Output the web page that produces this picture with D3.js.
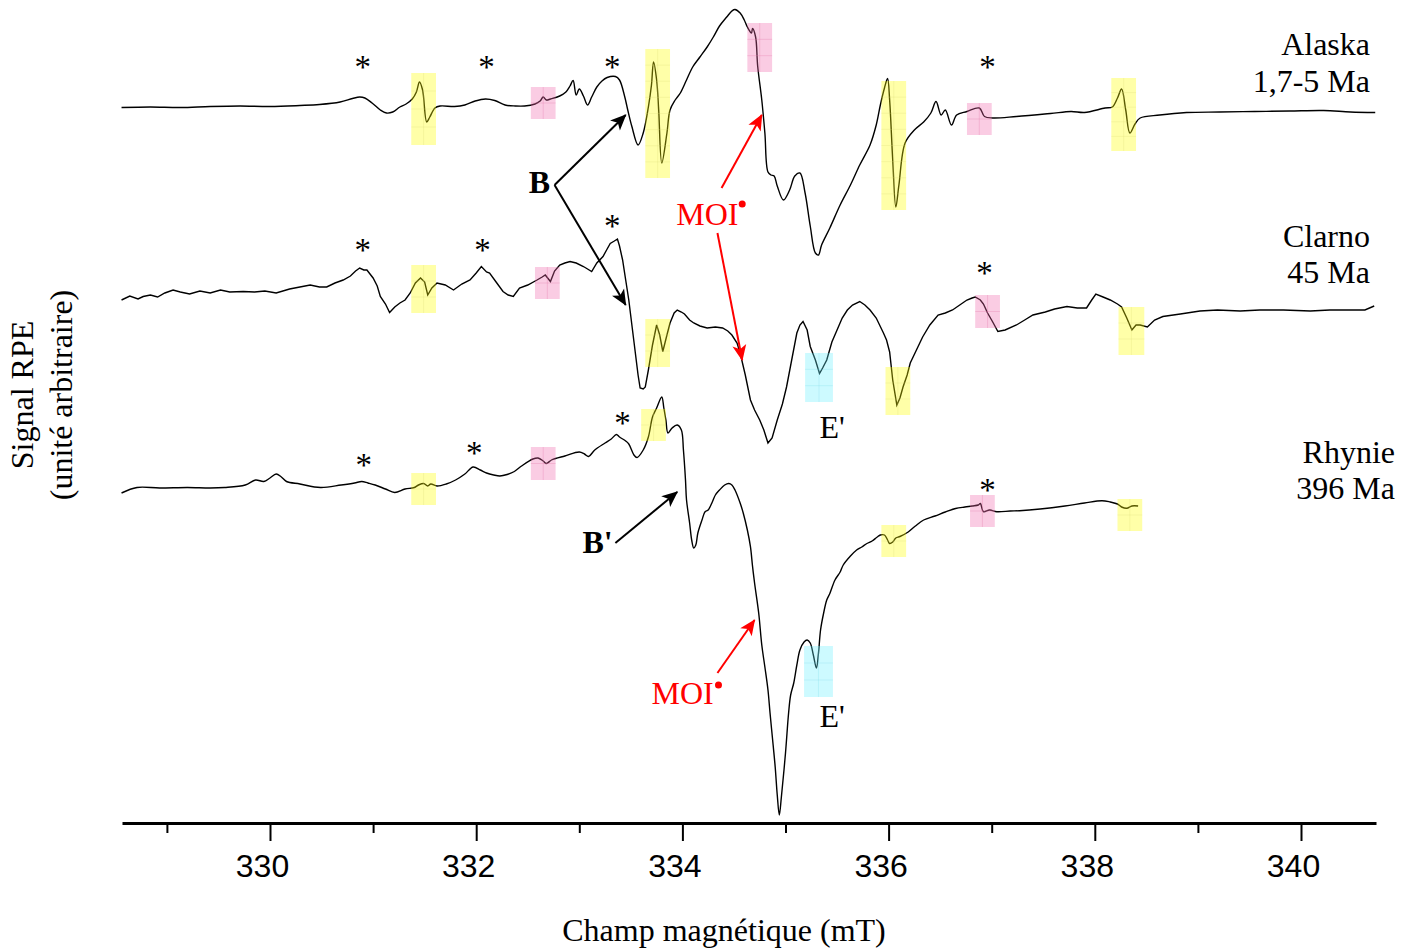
<!DOCTYPE html>
<html><head><meta charset="utf-8">
<script src="https://cdn.jsdelivr.net/npm/d3@7"></script>
<style>html,body{margin:0;padding:0;background:#fff;} svg{display:block;}</style>
</head><body>
<svg id="chart" width="1413" height="952"></svg>
<script>
// ---------------- DATA ----------------
const majorTicks = [330, 332, 334, 336, 338, 340];
const minorTicks = [329, 331, 333, 335, 337, 339];
const seriesNames = ["Alaska", "Clarno", "Rhynie"];
const seriesAges = ["1,7-5 Ma", "45 Ma", "396 Ma"];
const xTitle = "Champ magnétique (mT)";
const yTitle = ["Signal RPE", "(unité arbitraire)"];

// [field (mT), signal (arbitrary units, spectra stacked with offsets)]
const alaska = [[328.56,715.5],[328.84,716],[329.13,715.5],[329.42,716.5],[329.71,717],[330.00,716.5],[330.29,717.5],[330.48,718.5],[330.68,721],[330.80,724.5],[330.87,726],[330.92,725],[330.99,720],[331.07,713],[331.13,710],[331.19,711],[331.26,716],[331.32,719],[331.38,724],[331.42,731],[331.45,741],[331.48,733],[331.52,701],[331.55,706],[331.60,715],[331.65,717],[331.79,716.5],[331.89,718],[331.99,722],[332.09,724],[332.18,722.5],[332.28,718],[332.38,717],[332.47,717],[332.57,719],[332.62,722],[332.65,726],[332.68,723],[332.72,724],[332.81,727],[332.87,731],[332.91,737],[332.94,742.5],[332.97,728],[333.00,734],[333.04,727],[333.08,718],[333.12,726],[333.17,736],[333.22,742],[333.27,745.5],[333.35,746.5],[333.39,743],[333.44,726.5],[333.47,713],[333.51,696.5],[333.57,678],[333.62,690],[333.67,716],[333.70,738],[333.72,761],[333.75,743],[333.77,713],[333.80,660],[333.85,690],[333.88,713],[333.93,723],[333.98,730],[334.04,743],[334.10,756],[334.17,766],[334.24,776],[334.30,786],[334.36,797],[334.43,806],[334.48,812],[334.51,813.5],[334.56,810],[334.60,803],[334.63,796],[334.67,790],[334.68,794.5],[334.71,786],[334.73,757],[334.77,723],[334.80,690],[334.83,651],[334.86,648],[334.89,647],[334.92,637],[334.98,623],[335.04,633],[335.09,647],[335.14,650],[335.19,630],[335.24,597],[335.29,570],[335.32,568],[335.35,578],[335.43,595],[335.53,618],[335.63,638],[335.72,658],[335.82,678],[335.88,698],[335.92,718],[335.96,735],[335.99,744.5],[336.01,723],[336.04,663],[336.07,616],[336.10,638],[336.16,680],[336.25,693],[336.34,701],[336.41,710],[336.46,721.5],[336.51,708],[336.55,713],[336.61,698],[336.66,708],[336.76,711.5],[336.88,715],[336.93,706.5],[337.01,705],[337.24,706.5],[337.57,709.5],[337.77,711.5],[337.90,710.5],[338.10,715],[338.17,716],[338.22,725],[338.26,734],[338.30,713],[338.34,690],[338.39,699],[338.44,705],[338.63,708],[338.89,710.5],[339.21,711],[339.55,711.5],[339.89,712],[340.22,712.5],[340.48,711],[340.72,710.5]];

const clarno = [[328.56,523],[328.64,527],[328.72,524],[328.77,526.5],[328.84,528],[328.91,526],[328.98,530],[329.06,533],[329.13,531],[329.22,529],[329.32,532],[329.42,530],[329.52,533],[329.61,531],[329.74,531.5],[329.85,531],[329.95,532],[330.06,530],[330.19,534],[330.29,536],[330.39,538],[330.48,536],[330.55,536],[330.63,540],[330.71,543],[330.78,547],[330.83,552],[330.87,555],[330.91,553],[330.94,553],[331.00,545],[331.04,537],[331.07,526.5],[331.12,519],[331.16,510.5],[331.21,516],[331.26,520],[331.31,523],[331.36,530],[331.41,540],[331.46,545],[331.50,541],[331.53,528],[331.57,535],[331.62,540],[331.70,538],[331.78,533],[331.86,539],[331.94,543],[332.00,550],[332.05,556.5],[332.10,551],[332.13,550],[332.20,540],[332.26,531.5],[332.31,528],[332.36,526.5],[332.42,535],[332.50,538],[332.59,543],[332.64,546],[332.67,548],[332.72,541.5],[332.76,552],[332.81,558],[332.86,560],[332.91,561.5],[332.97,560],[333.04,556.5],[333.08,554],[333.12,551.5],[333.17,560],[333.23,566.5],[333.27,574],[333.30,579.5],[333.34,582],[333.37,584],[333.39,577],[333.42,563],[333.45,543],[333.48,523],[333.51,498],[333.54,473],[333.57,448],[333.59,435],[333.62,434],[333.64,436],[333.67,453],[333.71,478],[333.75,498],[333.78,488],[333.81,471.5],[333.85,488],[333.88,500],[333.92,510],[333.95,513],[333.99,511],[334.02,509],[334.07,503],[334.11,500],[334.17,497],[334.24,495],[334.32,496],[334.39,495],[334.44,492],[334.48,488],[334.53,480],[334.56,470],[334.61,448],[334.66,423],[334.70,413],[334.75,403],[334.79,393],[334.83,380],[334.87,385],[334.92,403],[334.97,419],[335.01,436],[335.06,463],[335.11,490],[335.14,498],[335.17,501.5],[335.21,493],[335.24,476.5],[335.29,463],[335.33,449.5],[335.36,455],[335.40,463],[335.45,481],[335.50,493],[335.55,505],[335.60,513],[335.65,518],[335.72,521.5],[335.77,518],[335.82,513],[335.88,505],[335.95,490],[335.98,483],[336.01,471],[336.04,443],[336.08,418],[336.11,425],[336.14,436],[336.18,448],[336.21,460],[336.27,473],[336.33,486],[336.40,498],[336.48,508],[336.55,510],[336.62,513],[336.69,518],[336.76,523],[336.81,525],[336.84,526],[336.89,523],[336.92,519],[336.96,510],[337.01,501],[337.06,491.5],[337.13,493],[337.24,498],[337.32,503],[337.40,508],[337.52,511],[337.61,514],[337.73,516.5],[337.83,515],[337.92,515],[337.97,523],[338.01,529],[338.08,526],[338.15,523],[338.22,519],[338.26,516],[338.31,505],[338.36,493],[338.40,498],[338.44,498],[338.51,496],[338.58,503],[338.66,506.5],[338.83,509],[339.02,512],[339.19,513],[339.41,512],[339.60,513],[339.83,513],[340.09,512],[340.28,513],[340.48,513],[340.62,513],[340.71,517]];

const rhynie = [[328.56,330],[328.71,335.5],[328.93,335],[329.20,335.5],[329.42,335],[329.56,335.5],[329.76,338],[329.86,343],[329.94,341.5],[330.00,345],[330.06,349],[330.11,346],[330.16,341.5],[330.29,339],[330.49,335.5],[330.69,338],[330.82,340],[330.89,341.5],[330.95,340],[331.02,338],[331.12,334],[331.21,330.5],[331.31,334],[331.40,335.5],[331.44,338],[331.49,339.5],[331.53,337],[331.56,339],[331.62,337],[331.71,339],[331.80,343],[331.89,349],[331.97,356],[332.04,353],[332.10,350],[332.17,348],[332.23,347],[332.30,348.5],[332.37,351.5],[332.44,357],[332.55,364],[332.60,365],[332.65,362],[332.68,359.5],[332.73,363],[332.77,364.5],[332.86,367],[333.00,371],[333.05,369],[333.09,366.5],[333.15,373],[333.25,380],[333.31,384],[333.36,388.5],[333.39,386],[333.45,382],[333.48,379],[333.53,368],[333.56,365.5],[333.62,373],[333.67,386],[333.71,406],[333.75,415],[333.80,426],[333.82,415],[333.84,403],[333.86,390],[333.90,395],[333.95,398],[333.99,393],[334.01,373],[334.03,343],[334.04,323],[334.07,300],[334.09,283],[334.11,275],[334.13,278],[334.15,290],[334.19,303],[334.22,311.3],[334.25,313],[334.29,321],[334.32,328],[334.36,333],[334.41,338],[334.45,339.5],[334.48,338],[334.51,333],[334.56,320],[334.59,310],[334.63,293],[334.66,276.3],[334.68,257],[334.70,240],[334.74,210],[334.77,178],[334.80,156],[334.83,133],[334.85,110],[334.88,78],[334.90,56],[334.92,28],[334.94,8],[334.96,26],[335.00,70],[335.03,110],[335.05,128],[335.08,140],[335.11,158],[335.14,173],[335.18,181],[335.21,183],[335.24,180],[335.27,168],[335.30,155],[335.32,170],[335.34,193],[335.37,210],[335.40,223],[335.43,229.5],[335.48,243],[335.53,251],[335.56,258],[335.63,267],[335.69,273],[335.74,276],[335.79,279.5],[335.84,282],[335.89,286],[335.92,288],[335.96,288],[335.99,283],[336.01,279.5],[336.04,281],[336.07,285],[336.11,286.5],[336.19,291],[336.26,297],[336.34,303],[336.45,307],[336.55,311],[336.65,314.5],[336.74,316],[336.81,317],[336.87,318],[336.89,319.5],[336.92,311.3],[336.98,313],[337.05,311.3],[337.18,312],[337.27,312.3],[337.47,314],[337.71,317],[337.90,320],[338.07,322.3],[338.15,321],[338.22,319],[338.26,316],[338.31,314.7],[338.36,317],[338.42,317]];

// asterisk markers [field, signal]
const asterisks = [[330.90,759],[332.10,759],[333.32,759],[336.96,759],
                   [330.90,576],[332.06,576],[333.32,600],[336.93,553],
                   [330.91,361],[331.98,373],[333.42,403],[336.96,336]];

// highlighted regions [fieldStart, fieldEnd, signalLow, signalHigh]
const yellowBoxes = [[331.37,331.61,678,750],[333.64,333.88,645,774],[335.93,336.17,613,742],[338.16,338.40,672,745],
                     [331.37,331.61,510,558],[333.64,333.88,456,504],[335.97,336.21,408,456],[338.23,338.48,468,516],
                     [331.37,331.61,318,350],[333.60,333.84,382,414],[335.93,336.17,266,298],[338.22,338.46,292,324]];
const pinkBoxes = [[332.53,332.77,704,736],[334.63,334.87,751,800],[336.76,337.00,688,720],
                   [332.57,332.81,524,556],[336.84,337.08,495,528],
                   [332.53,332.77,343,376],[336.79,337.03,296,328]];
const cyanBoxes = [[335.19,335.46,421,470],[335.18,335.46,126,177]];

// ---------------- DRAWING ----------------
const svg = d3.select("#chart");
const serif = "'Liberation Serif', 'Times New Roman', serif";
const sans = "'Liberation Sans', Arial, sans-serif";

const x = d3.scaleLinear().domain([330 - 148/103.1, 340 + 75/103.1]).range([122, 1376]);
const y = d3.scaleLinear().domain([0, 823]).range([823, 0]);

const defs = svg.append("defs");
function marker(id, color) {
  defs.append("marker").attr("id", id)
    .attr("viewBox", "-17 -9 19 18").attr("refX", 0).attr("refY", 0)
    .attr("markerWidth", 19).attr("markerHeight", 18)
    .attr("markerUnits", "userSpaceOnUse").attr("orient", "auto")
    .append("path").attr("d", "M1,0 L-15,-7 L-11,0 L-15,7 Z").attr("fill", color);
}
marker("headBlack", "#000");
marker("headRed", "#ff0000");

// spectra
const smooth = d3.line().x(d => x(d[0])).y(d => y(d[1])).curve(d3.curveCatmullRom.alpha(0.5));
const jagged = d3.line().x(d => x(d[0])).y(d => y(d[1])).curve(d3.curveLinear);
svg.append("path").attr("d", smooth(alaska)).attr("fill", "none").attr("stroke", "#000").attr("stroke-width", 1.4);
svg.append("path").attr("d", jagged(clarno)).attr("fill", "none").attr("stroke", "#000").attr("stroke-width", 1.4);
svg.append("path").attr("d", smooth(rhynie)).attr("fill", "none").attr("stroke", "#000").attr("stroke-width", 1.4);

// highlight boxes (drawn over the trace, translucent)
function boxes(data, fill, grid) {
  const g = svg.append("g");
  data.forEach(b => {
    const x0 = x(b[0]), x1 = x(b[1]), y0 = y(b[3]), y1 = y(b[2]);
    g.append("rect").attr("x", x0).attr("y", y0).attr("width", x1 - x0).attr("height", y1 - y0).attr("fill", fill);
    const gl = g.append("g").attr("stroke", grid).attr("stroke-width", 1);
    gl.append("line").attr("x1", (x0 + x1) / 2).attr("x2", (x0 + x1) / 2).attr("y1", y0).attr("y2", y1);
    const n = Math.max(2, Math.round((y1 - y0) / 16));
    for (let i = 1; i < n; i++) {
      const yy = y0 + (y1 - y0) * i / n;
      gl.append("line").attr("x1", x0).attr("x2", x1).attr("y1", yy).attr("y2", yy);
    }
  });
}
boxes(yellowBoxes, "rgba(255,255,0,0.34)", "rgba(220,220,120,0.25)");
boxes(pinkBoxes, "rgba(240,100,170,0.33)", "rgba(230,120,170,0.3)");
boxes(cyanBoxes, "rgba(100,240,255,0.32)", "rgba(120,220,230,0.25)");

// asterisks
svg.append("g").selectAll("text").data(asterisks).join("text")
  .attr("x", d => x(d[0])).attr("y", d => y(d[1]) + 14)
  .attr("text-anchor", "middle").attr("font-family", serif).attr("font-size", 33).text("*");

// axis
const axisG = svg.append("g").attr("transform", "translate(0,823)")
  .call(d3.axisBottom(x).tickValues(majorTicks).tickSize(18).tickSizeOuter(0).tickFormat(d3.format("d")));
axisG.select(".domain").attr("stroke-width", 3);
axisG.selectAll(".tick line").attr("stroke-width", 2);
axisG.selectAll(".tick text").attr("y", 54).attr("dy", 0).attr("dx", -8)
  .style("font-family", sans).style("font-size", "32px").attr("fill", "#000");
const minorG = svg.append("g").attr("transform", "translate(0,823)")
  .call(d3.axisBottom(x).tickValues(minorTicks).tickSize(10).tickFormat(""));
minorG.select(".domain").remove();
minorG.selectAll(".tick line").attr("stroke-width", 2);

// axis titles
svg.append("text").attr("x", 724).attr("y", 941).attr("text-anchor", "middle")
  .attr("font-family", serif).attr("font-size", 32).text(xTitle);
svg.append("text").attr("transform", "translate(33,395) rotate(-90)").attr("text-anchor", "middle")
  .attr("font-family", serif).attr("font-size", 32).text(yTitle[0]);
svg.append("text").attr("transform", "translate(72,395) rotate(-90)").attr("text-anchor", "middle")
  .attr("font-family", serif).attr("font-size", 32).text(yTitle[1]);

// series labels
const labelPos = [[1370, 54.5, 91.5], [1370, 246.5, 282.5], [1395, 463, 499]];
seriesNames.forEach((name, i) => {
  const p = labelPos[i];
  svg.append("text").attr("x", p[0]).attr("y", p[1]).attr("text-anchor", "end")
    .attr("font-family", serif).attr("font-size", 32).text(name);
  svg.append("text").attr("x", p[0]).attr("y", p[2]).attr("text-anchor", "end")
    .attr("font-family", serif).attr("font-size", 32).text(seriesAges[i]);
});

// annotations
function arrow(a, b, color, head) {
  svg.append("line").attr("x1", x(a[0])).attr("y1", y(a[1])).attr("x2", x(b[0])).attr("y2", y(b[1]))
    .attr("stroke", color).attr("stroke-width", 2).attr("marker-end", "url(#" + head + ")");
}
arrow([332.76, 638], [333.45, 708], "#000", "headBlack");
arrow([332.76, 638], [333.45, 518], "#000", "headBlack");
arrow([333.35, 280], [333.95, 331], "#000", "headBlack");
arrow([334.38, 635], [334.77, 708], "#ff0000", "headRed");
arrow([334.34, 590], [334.58, 463], "#ff0000", "headRed");
arrow([334.34, 150], [334.70, 203], "#ff0000", "headRed");

function label(txt, f, s, opts) {
  svg.append("text").attr("x", x(f)).attr("y", y(s)).attr("font-family", serif).attr("font-size", 32)
    .attr("font-weight", opts.bold ? "bold" : "normal").attr("fill", opts.color || "#000").text(txt);
}
label("B", 332.51, 630, {bold: true});
label("B'", 333.03, 270, {bold: true});
label("MOI", 333.94, 598, {color: "#ff0000"});
label("MOI", 333.70, 119, {color: "#ff0000"});
label("E'", 335.33, 384.7, {});
label("E'", 335.33, 96.3, {});
svg.append("circle").attr("cx", x(334.58)).attr("cy", y(619)).attr("r", 3.5).attr("fill", "#ff0000");
svg.append("circle").attr("cx", x(334.35)).attr("cy", y(138)).attr("r", 3.5).attr("fill", "#ff0000");
</script>
</body></html>
